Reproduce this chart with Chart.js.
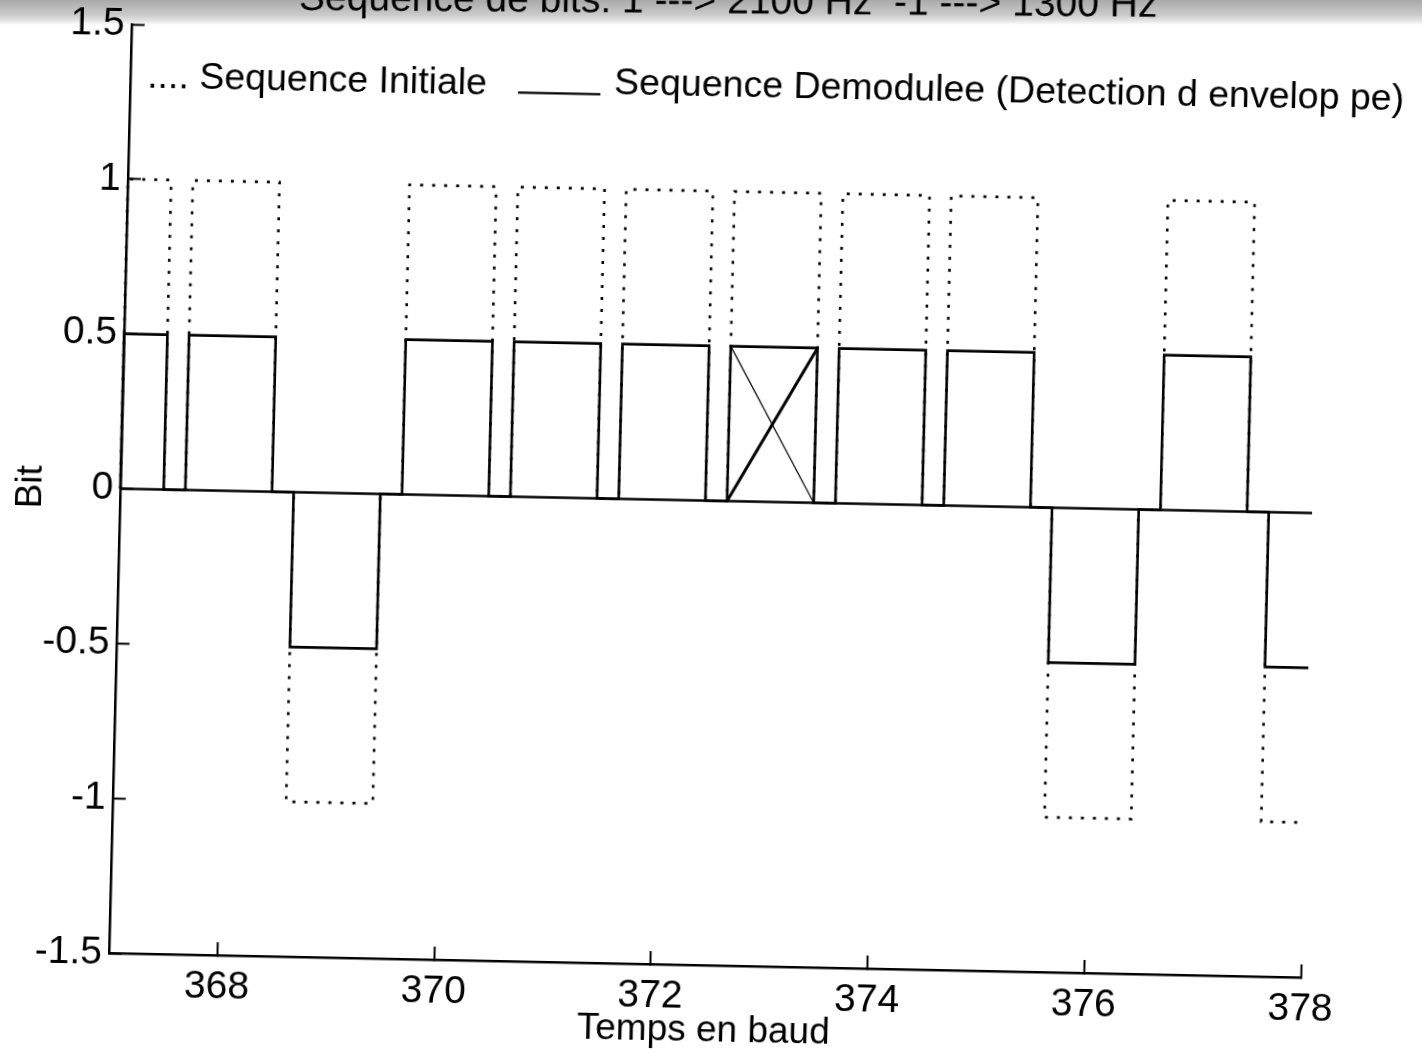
<!DOCTYPE html>
<html>
<head>
<meta charset="utf-8">
<title>Sequence de bits</title>
<script src="https://cdn.jsdelivr.net/npm/chart.js@4.4.1/dist/chart.umd.min.js"></script>
<style>
  html, body { margin: 0; padding: 0; background: #fff; overflow: hidden; }
  body { width: 1422px; height: 1057px; position: relative; }
  /* grey strip left by the scanner at the top of the page */
  #scanBand {
    position: absolute; left: 0; top: 0; width: 1422px; height: 25px;
    background: linear-gradient(to bottom, #a9a9a9 0px, #b9b9b9 7px, #cbcbcb 15px, #e6e6e6 21px, #fff 25px);
  }
  /* the scanned page is slightly rotated / skewed */
  #page {
    position: absolute; left: 0; top: 0; width: 1422px; height: 1110px;
    transform-origin: 0 0;
    transform: matrix(1, 0.02047, -0.02443, 1, 24.5, -51.93);
  }
</style>
</head>
<body>
<div id="scanBand"></div>
<div id="page"><canvas id="chart"></canvas></div>
<script>
const FONT = "'Liberation Sans', Arial, Helvetica, sans-serif";

// axis ranges and ticks
const xRange = [367, 378];
const yRange = [-1.5, 1.5];
const xTickVals = [368, 370, 372, 374, 376, 378];
const yTickVals = [-1.5, -1, -0.5, 0, 0.5, 1, 1.5];

// one pulse per baud (time in baud)
const bitTimes = [367, 368, 369, 370, 371, 372, 373, 374, 375, 376, 377, 378];
const pulseStart = [367, 367.6, 368.6, 369.6, 370.6, 371.6, 372.6, 373.6, 374.6, 375.6, 376.6, 377.6];
const pulseEnd = [367.4, 368.4, 369.4, 370.4, 371.4, 372.4, 373.4, 374.4, 375.4, 376.4, 377.4, 378];
const initialSeq = [1, 1, -1, 1, 1, 1, 1, 1, 1, -1, 1, -1];
const demodSeq = [0.5, 0.5, -0.5, 0.5, 0.5, 0.5, 0.5, 0.5, 0.5, -0.5, 0.5, -0.5];

// zero line and the crossed-out pulse at 373
const zeroX = [367, 378];
const zeroY = [0, 0];
const crossX = [372.6, 373.4];
const crossThickY = [0, 0.5];
const crossThinY = [0.5, 0];

// texts
const titleText = 'Sequence de bits: 1 ---> 2100 Hz  -1 ---> 1300 Hz';
const legendInitial = '.... Sequence Initiale';
const legendDemod = 'Sequence Demodulee (Detection d envelop pe)';

function stepTrace(levels) {
  const pts = [];
  levels.forEach((v, i) => {
    pts.push({ x: pulseStart[i], y: 0 }, { x: pulseStart[i], y: v }, { x: pulseEnd[i], y: v });
    if (i < levels.length - 1) pts.push({ x: pulseEnd[i], y: 0 });
  });
  return pts;
}
const pairs = (xs, ys) => xs.map((x, i) => ({ x, y: ys[i] }));

// title + in-plot legend text (placed in data coordinates)
const scanText = {
  id: 'scanText',
  afterDatasetsDraw(chart) {
    const { ctx, chartArea, scales: { x, y } } = chart;
    ctx.save();
    ctx.fillStyle = '#000';
    ctx.strokeStyle = '#000';
    ctx.textBaseline = 'alphabetic';

    // title sits on the scanner edge, a bit less tilted than the plot
    ctx.save();
    ctx.font = `39px ${FONT}`;
    ctx.textAlign = 'center';
    ctx.translate((chartArea.left + chartArea.right) / 2, y.getPixelForValue(1.575));
    ctx.rotate(-0.0125);
    ctx.fillText(titleText, 0, 0);
    ctx.restore();

    ctx.font = `37.5px ${FONT}`;
    ctx.textAlign = 'left';
    ctx.fillText(legendInitial, x.getPixelForValue(367.156), y.getPixelForValue(1.295));
    ctx.fillText(legendDemod, x.getPixelForValue(371.465), y.getPixelForValue(1.305));
    ctx.lineWidth = 2.2;
    ctx.beginPath();
    ctx.moveTo(x.getPixelForValue(370.58), y.getPixelForValue(1.305));
    ctx.lineTo(x.getPixelForValue(371.34), y.getPixelForValue(1.305));
    ctx.stroke();
    ctx.restore();
  }
};

const base = { borderColor: '#000', pointRadius: 0, tension: 0, fill: false, clip: false };

new Chart(document.getElementById('chart'), {
  type: 'line',
  data: {
    datasets: [
      { ...base, label: 'Sequence Demodulee', data: stepTrace(demodSeq), borderWidth: 2.6, order: 1 },
      { ...base, label: 'zero', data: pairs(zeroX, zeroY), borderWidth: 2.3, order: 2 },
      { ...base, label: 'Sequence Initiale', data: stepTrace(initialSeq), borderWidth: 2.6, borderDash: [3, 9], order: 3 },
      { ...base, label: 'cross1', data: pairs(crossX, crossThickY), borderWidth: 3, order: 0 },
      { ...base, label: 'cross2', data: pairs(crossX, crossThinY), borderWidth: 1.2, order: 0 }
    ]
  },
  options: {
    responsive: true,
    maintainAspectRatio: false,
    animation: false,
    layout: { padding: { left: 0, top: 74, right: 121, bottom: 0 } },
    plugins: { legend: { display: false }, tooltip: { enabled: false } },
    scales: {
      x: {
        type: 'linear', min: xRange[0], max: xRange[1],
        afterFit: (s) => { s.height = 107; },
        afterBuildTicks: (s) => { s.ticks = xTickVals.map(v => ({ value: v })); },
        border: { display: true, color: '#000', width: 2.5 },
        grid: { drawOnChartArea: false, drawTicks: true, tickLength: -13, tickWidth: 2, tickColor: '#000' },
        ticks: { color: '#000', font: { family: FONT, size: 39 }, padding: 22, maxRotation: 0, autoSkip: false,
                 callback: (v) => String(v) },
        title: { display: true, text: 'Temps en baud', color: '#000',
                 font: { family: FONT, size: 37, lineHeight: 1 }, padding: { top: 0, bottom: 23 } }
      },
      y: {
        type: 'linear', min: yRange[0], max: yRange[1],
        afterFit: (s) => { s.width = 109; },
        afterBuildTicks: (s) => { s.ticks = yTickVals.map(v => ({ value: v })); },
        border: { display: true, color: '#000', width: 2.5 },
        grid: { drawOnChartArea: false, drawTicks: true, tickLength: -13, tickWidth: 2, tickColor: '#000' },
        ticks: { color: '#000', font: { family: FONT, size: 39 }, padding: 20, autoSkip: false,
                 callback: (v) => String(v) },
        title: { display: true, text: 'Bit', color: '#000',
                 font: { family: FONT, size: 37, lineHeight: 1 }, padding: { top: 1, bottom: 0 } }
      }
    }
  },
  plugins: [scanText]
});
</script>
</body>
</html>
